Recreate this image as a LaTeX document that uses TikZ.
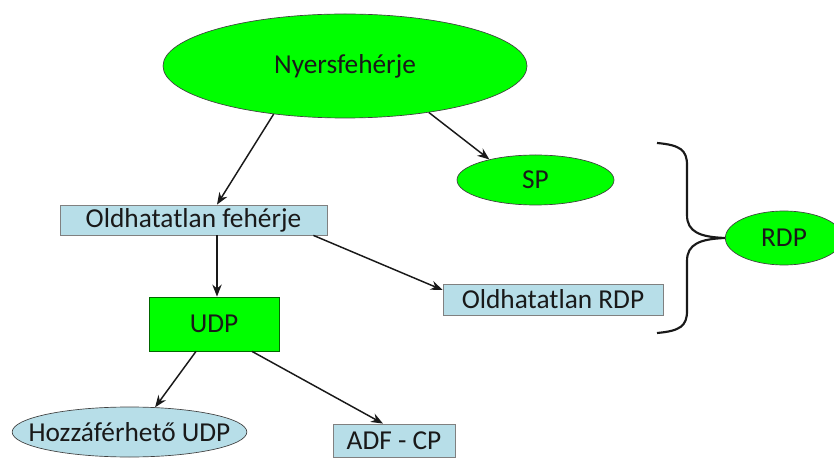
\documentclass[tikz,border=0pt]{standalone}
\usepackage{fontspec}
\setmainfont{Carlito}
\usetikzlibrary{shapes.geometric,arrows.meta,calc}
\definecolor{gr}{HTML}{00FF00}
\definecolor{lb}{HTML}{B7DEE8}
\definecolor{edge}{HTML}{404040}
\newcommand{\zb}[1]{\makebox[0pt]{#1}}
\begin{document}
\begin{tikzpicture}[x=0.75pt,y=-0.75pt,
  every node/.style={font=\fontsize{20.5pt}{24pt}\selectfont, text=black!90, inner sep=0pt},
  gell/.style={ellipse, fill=gr, draw=edge, line width=0.5pt},
  bell/.style={ellipse, fill=lb, draw=edge, line width=0.5pt},
  brect/.style={rectangle, fill=lb, draw=gray, line width=0.6pt},
  grect/.style={rectangle, fill=gr, draw=green!40!black, line width=0.6pt},
  arr/.style={-{Stealth[length=9pt,width=7pt]}, line width=1.1pt, draw=black!90}]
\useasboundingbox (0,0) rectangle (834,459);
\node[gell, minimum width=273pt, minimum height=78pt] (ny) at (345,66) {\zb{Nyersfehérje}};
\node[gell, minimum width=117.75pt, minimum height=37.5pt] (sp) at (535.5,180) {\zb{SP}};
\node[brect, minimum width=200.25pt, minimum height=22.5pt] (of) at (193.5,220) {Oldhatatlan fehérje};
\node[brect, minimum width=165pt, minimum height=23.25pt] (ordp) at (553,299.5) {Oldhatatlan RDP};
\node[grect, minimum width=97.5pt, minimum height=40.5pt] (udp) at (214,324) {UDP};
\node[bell, minimum width=176pt, minimum height=37.5pt] (hz) at (129.5,432) {\zb{Hozzáférhető UDP}};
\node[brect, minimum width=91.5pt, minimum height=24.75pt] (adf) at (394,440.5) {ADF - CP};
\node[gell, minimum width=88pt, minimum height=40.5pt] (rdp) at (784,238) {\zb{RDP}};
\coordinate (of1) at ($(of.south)+(23.5,0)$);
\draw[arr] (ny.214) -- ($(of.north)+(23.5,0)$);
\draw[arr] (ny.-29) -- (sp.156);
\draw[arr] (of1) -- (of1 |- udp.north);
\draw[arr] ($(of.south east)+(-14,0)$) -- ($(ordp.west)+(0,-9.5)$);
\draw[arr] ($(udp.south)+(-18,0)$) -- (hz.44);
\draw[arr] ($(udp.south)+(38,0)$) -- ($(adf.north)+(-11,0)$);
\draw[line width=1.6pt, black!90]
  (657,143) .. controls (680,145) and (687,150) .. (687,165)
  -- (687,215) .. controls (687,232) and (700,237) .. (rdp.west)
  (rdp.west) .. controls (700,239) and (687,244) .. (687,261)
  -- (687,311) .. controls (687,326) and (680,331) .. (657,333);
\end{tikzpicture}
\end{document}
